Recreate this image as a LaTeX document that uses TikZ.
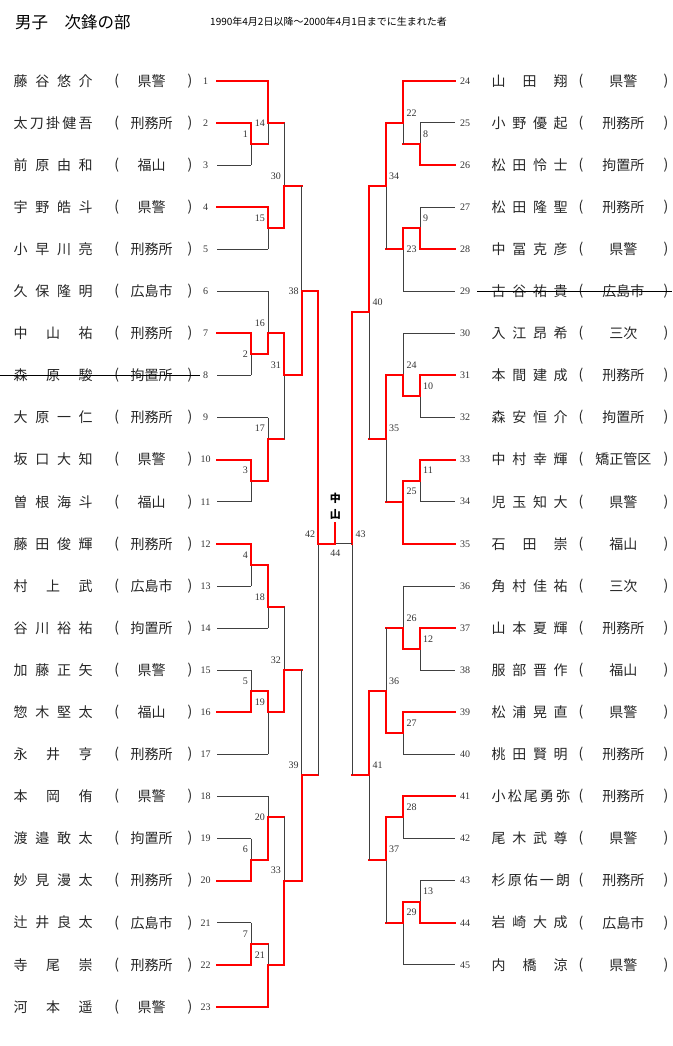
\documentclass[tikz,border=0pt]{standalone}
\usepackage{fontspec}
\setmainfont{Liberation Serif}
\newfontfamily\jp{Noto Sans CJK JP}
\usetikzlibrary{positioning}
\newcommand{\bout}[4]{%
  \draw[#4] (#3) -- (#3 -| #1);
  \draw[lose] (#3 -| #1) -- (#1);
  \draw[win] (#2) -- (#2 -| #1) -- (#1);}

\begin{document}
\begin{tikzpicture}[x=1pt, y=-21.05pt,
  win/.style={draw=red, line width=2pt, line cap=rect},
  lose/.style={draw=black!75, line width=0.8pt},
  num/.style={font=\fontsize{10pt}{10pt}\selectfont, inner sep=0pt, text=black!80},
  tag/.style={font=\fontsize{10pt}{10pt}\selectfont, inner sep=1pt, text=black!80},
  tagL/.style={tag, anchor=east, xshift=-2pt, yshift=#1}, tagL/.default=10pt,
  tagR/.style={tag, anchor=west, xshift=2pt, yshift=#1}, tagR/.default=10pt,
  jpt/.style={font=\jp\fontsize{14pt}{14pt}\selectfont, inner sep=0pt, text=black!85},
  pname/.style={jpt, anchor=west},
  champ/.style={font=\jp\fontsize{11pt}{16pt}\selectfont\bfseries, align=center, inner sep=1pt},
  strike/.style={draw=black, line width=0.8pt}]
\useasboundingbox (0,-3.834) rectangle (672,45.857);

\node[anchor=west, inner sep=0pt, font=\jp\fontsize{16.5pt}{16.5pt}\selectfont] (title) at (15,-2.8) {男子　次鋒の部};
\node[anchor=west, inner sep=0pt, font=\jp\fontsize{10pt}{10pt}\selectfont] (born) at (210,-2.8) {1990年4月2日以降～2000年4月1日までに生まれた者};

\foreach \nm/\af [count=\i] in {{藤 谷 悠 介}/県警, {太 刀 掛 健 吾}/刑務所, {前 原 由 和}/福山,
  {宇 野 皓 斗}/県警, {小 早 川 亮}/刑務所, {久 保 隆 明}/広島市, {中 山 祐}/刑務所,
  {森 原 駿}/拘置所, {大 原 一 仁}/刑務所, {坂 口 大 知}/県警, {曽 根 海 斗}/福山,
  {藤 田 俊 輝}/刑務所, {村 上 武}/広島市, {谷 川 裕 祐}/拘置所, {加 藤 正 矢}/県警,
  {惣 木 堅 太}/福山, {永 井 亨}/刑務所, {本 岡 侑}/県警, {渡 邉 敢 太}/拘置所,
  {妙 見 漫 太}/刑務所, {辻 井 良 太}/広島市, {寺 尾 崇}/刑務所, {河 本 遥}/県警}{
  \node[num, minimum width=23pt] (p\i) at (205.5,{2*(\i-1)}) {\i};
  \node[pname] (n\i) at (13.5,{2*(\i-1)}) {\makebox[79pt][s]{\nm}};
  \node[jpt] (ol\i) at (116.7,{2*(\i-1)}) {(};
  \node[jpt] (a\i) at (151.7,{2*(\i-1)}) {\af};
  \node[jpt] (cl\i) at (190,{2*(\i-1)}) {)};
}
\foreach \nm/\af [count=\i from 24] in {{山 田 翔}/県警, {小 野 優 起}/刑務所, {松 田 怜 士}/拘置所,
  {松 田 隆 聖}/刑務所, {中 冨 克 彦}/県警, {古 谷 祐 貴}/広島市, {入 江 昂 希}/三次,
  {本 間 建 成}/刑務所, {森 安 恒 介}/拘置所, {中 村 幸 輝}/矯正管区, {児 玉 知 大}/県警,
  {石 田 崇}/福山, {角 村 佳 祐}/三次, {山 本 夏 輝}/刑務所, {服 部 晋 作}/福山,
  {松 浦 晃 直}/県警, {桃 田 賢 明}/刑務所, {小 松 尾 勇 弥}/刑務所, {尾 木 武 尊}/県警,
  {杉 原 佑 一 朗}/刑務所, {岩 崎 大 成}/広島市, {内 橋 涼}/県警}{
  \node[num, minimum width=20pt] (p\i) at (465,{2*(\i-24)}) {\i};
  \node[pname] (n\i) at (491.5,{2*(\i-24)}) {\makebox[76pt][s]{\nm}};
  \node[jpt] (ol\i) at (581,{2*(\i-24)}) {(};
  \node[jpt] (a\i) at (623.3,{2*(\i-24)}) {\af};
  \node[jpt] (cl\i) at (666,{2*(\i-24)}) {)};
}

\foreach \k/\x/\g in {1/251/3, 14/268/2, 15/268/7, 30/284/5, 2/251/13, 16/268/12, 3/251/19,
  17/268/17, 31/284/14, 38/301.7/10, 4/251/23, 18/268/25, 5/251/29, 19/268/30, 32/284/28,
  6/251/37, 20/268/35, 7/251/41, 21/268/42, 33/284/38, 39/301.7/33, 42/318.3/22,
  8/420/3, 22/403.3/2, 9/420/7, 23/403.3/8, 34/386/5, 10/420/15, 24/403.3/14, 11/420/19,
  25/403.3/20, 35/386/17, 40/369.3/11, 12/420/27, 26/403.3/26, 27/403.3/31, 36/386/29,
  28/403.3/35, 13/420/39, 29/403.3/40, 37/386/37, 41/369.3/33, 43/352.3/22, 44/335.3/22}
  \coordinate (m\k) at (\x,\g);
\coordinate (top) at (335.3,21);

\bout{m1}{p2.east}{p3.east}{lose}
\bout{m14}{p1.east}{m1}{win}
\bout{m15}{p4.east}{p5.east}{lose}
\bout{m30}{m15}{m14}{win}
\bout{m2}{p7.east}{p8.east}{lose}
\bout{m16}{m2}{p6.east}{lose}
\bout{m3}{p10.east}{p11.east}{lose}
\bout{m17}{m3}{p9.east}{lose}
\bout{m31}{m16}{m17}{win}
\bout{m38}{m31}{m30}{win}
\bout{m4}{p12.east}{p13.east}{lose}
\bout{m18}{m4}{p14.east}{lose}
\bout{m5}{p16.east}{p15.east}{lose}
\bout{m19}{m5}{p17.east}{lose}
\bout{m32}{m19}{m18}{win}
\bout{m6}{p20.east}{p19.east}{lose}
\bout{m20}{m6}{p18.east}{lose}
\bout{m7}{p22.east}{p21.east}{lose}
\bout{m21}{p23.east}{m7}{win}
\bout{m33}{m21}{m20}{win}
\bout{m39}{m33}{m32}{win}
\bout{m42}{m38}{m39}{win}

\bout{m8}{p26.west}{p25.west}{lose}
\bout{m22}{p24.west}{m8}{win}
\bout{m9}{p28.west}{p27.west}{lose}
\bout{m23}{m9}{p29.west}{lose}
\bout{m34}{m22}{m23}{win}
\bout{m10}{p31.west}{p32.west}{lose}
\bout{m24}{m10}{p30.west}{lose}
\bout{m11}{p33.west}{p34.west}{lose}
\bout{m25}{p35.west}{m11}{win}
\draw[win] (m11 -| m25) -- (m25);
\bout{m35}{m24}{m25}{win}
\bout{m40}{m34}{m35}{win}
\bout{m12}{p37.west}{p38.west}{lose}
\bout{m26}{m12}{p36.west}{lose}
\bout{m27}{p39.west}{p40.west}{lose}
\bout{m36}{m27}{m26}{win}
\bout{m28}{p41.west}{p42.west}{lose}
\bout{m13}{p44.west}{p43.west}{lose}
\bout{m29}{m13}{p45.west}{lose}
\bout{m37}{m28}{m29}{win}
\bout{m41}{m36}{m37}{win}
\bout{m43}{m40}{m41}{win}

\draw[lose] (m43) -- (m44);
\draw[win] (m42) -- (m44) -- (top);
\node[champ, anchor=south] (champion) at ([yshift=2pt]top) {中\\山};
\node[tag, below=5pt of m44] (t44) {44};

\foreach \k in {1,15,30,16,31,17,3,4,18,32,5,19,39,6,33,7,21,42}
  \node[tagL] (t\k) at (m\k) {\k};
\foreach \k in {14,38,2,20}
  \node[tagL=0pt] (t\k) at (m\k) {\k};
\foreach \k in {8,22,9,34,10,24,11,25,35,40,12,26,27,36,41,28,13,29,37,43}
  \node[tagR] (t\k) at (m\k) {\k};
\node[tagR=0pt] (t23) at (m23) {23};

\draw[strike] ([xshift=-13.5pt]n8.west) -- ([xshift=6pt]p8.west);
\draw[strike] ([xshift=2pt]p29.east) -- (672,10);
\end{tikzpicture}
\end{document}
